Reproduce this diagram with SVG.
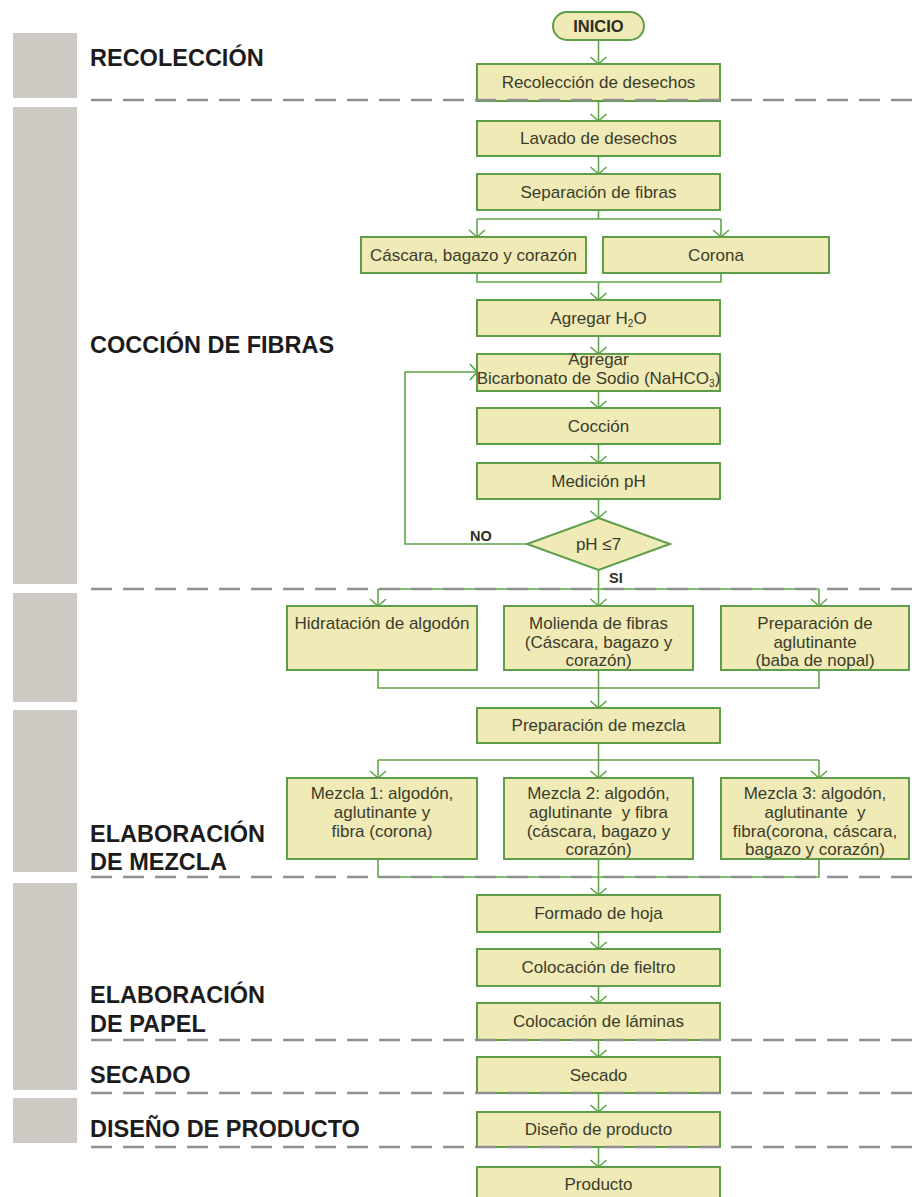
<svg xmlns="http://www.w3.org/2000/svg" width="921" height="1197" viewBox="0 0 921 1197">
<style>
.bar{fill:#cdcac4}
.dash{stroke:#8f8f8f;stroke-width:2.5;stroke-dasharray:21 11;fill:none}
.box{fill:#efeab6;stroke:#5e9e48;stroke-width:2}
.t{font-family:"Liberation Sans",Arial,sans-serif;font-size:17px;fill:#3c3c2c;text-anchor:middle}
.tb{font-family:"Liberation Sans",Arial,sans-serif;font-weight:bold;fill:#2e2e22}
.lbl{font-family:"Liberation Sans",Arial,sans-serif;font-weight:bold;font-size:23.5px;fill:#1c1c1c}
.c{stroke:#5fa64a;stroke-width:1.6;fill:none}
.a{marker-end:url(#arr)}
.sub{font-size:10px}
</style>
<defs>
<marker id="arr" markerUnits="userSpaceOnUse" markerWidth="20" markerHeight="20" refX="0" refY="0" viewBox="-10 -10 20 20" orient="auto" overflow="visible">
<path d="M-7,-8 L0,0 L-7,8" fill="none" stroke="#5fa64a" stroke-width="1.6"/>
</marker>
</defs>
<rect width="921" height="1197" fill="#ffffff"/>
<g id="lanes">
<rect class="bar" x="13" y="33" width="64" height="65"/>
<rect class="bar" x="13" y="107" width="64" height="477"/>
<rect class="bar" x="13" y="593" width="64" height="109"/>
<rect class="bar" x="13" y="710" width="64" height="162"/>
<rect class="bar" x="13" y="883" width="64" height="207"/>
<rect class="bar" x="13" y="1098" width="64" height="45"/>
<text class="lbl" x="90" y="66">RECOLECCIÓN</text>
<text class="lbl" x="90" y="353">COCCIÓN DE FIBRAS</text>
<text class="lbl" x="90" y="842">ELABORACIÓN</text>
<text class="lbl" x="90" y="870">DE MEZCLA</text>
<text class="lbl" x="90" y="1003">ELABORACIÓN</text>
<text class="lbl" x="90" y="1032">DE PAPEL</text>
<text class="lbl" x="90" y="1083">SECADO</text>
<text class="lbl" x="90" y="1137">DISEÑO DE PRODUCTO</text>
</g>
<g id="connectors">
<path class="c a" d="M598.5 40 V64"/>
<path class="c a" d="M598.5 101 V121"/>
<path class="c a" d="M598.5 156 V174"/>
<path class="c" d="M598.5 210 V219 M477 219 H721"/>
<path class="c a" d="M477 219 V237"/>
<path class="c a" d="M721 219 V237"/>
<path class="c" d="M477 273 V282 H721 V273"/>
<path class="c a" d="M598.5 282 V300"/>
<path class="c a" d="M598.5 336 V354"/>
<path class="c a" d="M598.5 391 V408"/>
<path class="c a" d="M598.5 444 V463"/>
<path class="c a" d="M598.5 499 V518"/>
<path class="c a" d="M527 544 H405 V372 H477"/>
<path class="c" d="M598.5 570 V589 M378 589 H819"/>
<path class="c a" d="M378 589 V606"/>
<path class="c a" d="M598.5 589 V606"/>
<path class="c a" d="M819 589 V606"/>
<path class="c" d="M378 670 V688 H819 V670"/>
<path class="c a" d="M598.5 670 V708"/>
<path class="c" d="M598.5 743 V760 M378 760 H819"/>
<path class="c a" d="M378 760 V778"/>
<path class="c a" d="M598.5 760 V778"/>
<path class="c a" d="M819 760 V778"/>
<path class="c" d="M378 859 V877 H819 V859"/>
<path class="c a" d="M598.5 859 V895"/>
<path class="c a" d="M598.5 932 V949"/>
<path class="c a" d="M598.5 986 V1003"/>
<path class="c a" d="M598.5 1040 V1057"/>
<path class="c a" d="M598.5 1093 V1112"/>
<path class="c a" d="M598.5 1147 V1167"/>
</g>
<g id="n-inicio"><rect class="box" x="553" y="12" width="91" height="28" rx="14"/><text class="tb" x="598.5" y="32" font-size="16.5" text-anchor="middle">INICIO</text></g>
<g id="n-recoleccion"><rect class="box" x="477" y="64" width="243" height="37"/><text class="t" x="598.5" y="88">Recolección de desechos</text></g>
<g id="n-lavado"><rect class="box" x="477" y="121" width="243" height="35"/><text class="t" x="598.5" y="144">Lavado de desechos</text></g>
<g id="n-separacion"><rect class="box" x="477" y="174" width="243" height="36"/><text class="t" x="598.5" y="198">Separación de fibras</text></g>
<g id="n-cascara"><rect class="box" x="361" y="237" width="225" height="36"/><text class="t" x="473.5" y="261">Cáscara, bagazo y corazón</text></g>
<g id="n-corona"><rect class="box" x="603" y="237" width="226" height="36"/><text class="t" x="716" y="261">Corona</text></g>
<g id="n-agua"><rect class="box" x="477" y="300" width="243" height="36"/><text class="t" x="598.5" y="324">Agregar H<tspan class="sub" dy="3">2</tspan><tspan dy="-3">O</tspan></text></g>
<g id="n-bicarbonato"><rect class="box" x="477" y="354" width="243" height="37"/><text class="t" x="598.5" y="365" font-size="14.5">Agregar</text><text class="t" x="598.5" y="384" font-size="14.5">Bicarbonato de Sodio (NaHCO<tspan class="sub" dy="3">3</tspan><tspan dy="-3">)</tspan></text></g>
<g id="n-coccion"><rect class="box" x="477" y="408" width="243" height="36"/><text class="t" x="598.5" y="432">Cocción</text></g>
<g id="n-medicion"><rect class="box" x="477" y="463" width="243" height="36"/><text class="t" x="598.5" y="487">Medición pH</text></g>
<g id="n-decision"><polygon class="box" points="598.5,518 670,544 598.5,570 527,544"/><text class="t" x="598.5" y="550">pH ≤7</text><text class="tb" x="470" y="541" font-size="14.5">NO</text><text class="tb" x="609" y="583" font-size="14.5">SI</text></g>
<g id="n-hidratacion"><rect class="box" x="287" y="606" width="190" height="64"/><text class="t" x="382" y="629">Hidratación de algodón</text></g>
<g id="n-molienda"><rect class="box" x="504" y="606" width="189" height="64"/><text class="t" x="598.5" y="629">Molienda de fibras</text><text class="t" x="598.5" y="648">(Cáscara, bagazo y</text><text class="t" x="598.5" y="666">corazón)</text></g>
<g id="n-aglutinante"><rect class="box" x="721" y="606" width="188" height="64"/><text class="t" x="815" y="629">Preparación de</text><text class="t" x="815" y="648">aglutinante</text><text class="t" x="815" y="666">(baba de nopal)</text></g>
<g id="n-prep-mezcla"><rect class="box" x="477" y="708" width="243" height="35"/><text class="t" x="598.5" y="731">Preparación de mezcla</text></g>
<g id="n-mezcla1"><rect class="box" x="287" y="778" width="190" height="81"/><text class="t" x="382" y="799">Mezcla 1: algodón,</text><text class="t" x="382" y="818">aglutinante y</text><text class="t" x="382" y="837">fibra (corona)</text></g>
<g id="n-mezcla2"><rect class="box" x="504" y="778" width="189" height="81"/><text class="t" x="598.5" y="799">Mezcla 2: algodón,</text><text class="t" x="598.5" y="818" xml:space="preserve">aglutinante  y fibra</text><text class="t" x="598.5" y="837">(cáscara, bagazo y</text><text class="t" x="598.5" y="855">corazón)</text></g>
<g id="n-mezcla3"><rect class="box" x="721" y="778" width="188" height="81"/><text class="t" x="815" y="799">Mezcla 3: algodón,</text><text class="t" x="815" y="818" xml:space="preserve">aglutinante  y</text><text class="t" x="815" y="837">fibra(corona, cáscara,</text><text class="t" x="815" y="855">bagazo y corazón)</text></g>
<g id="n-formado"><rect class="box" x="477" y="895" width="243" height="37"/><text class="t" x="598.5" y="919">Formado de hoja</text></g>
<g id="n-fieltro"><rect class="box" x="477" y="949" width="243" height="37"/><text class="t" x="598.5" y="973">Colocación de fieltro</text></g>
<g id="n-laminas"><rect class="box" x="477" y="1003" width="243" height="37"/><text class="t" x="598.5" y="1027">Colocación de láminas</text></g>
<g id="n-secado"><rect class="box" x="477" y="1057" width="243" height="36"/><text class="t" x="598.5" y="1081">Secado</text></g>
<g id="n-diseno"><rect class="box" x="477" y="1112" width="243" height="35"/><text class="t" x="598.5" y="1135">Diseño de producto</text></g>
<g id="n-producto"><rect class="box" x="477" y="1167" width="243" height="36"/><text class="t" x="598.5" y="1190">Producto</text></g>
<g id="dividers">
<line class="dash" x1="91" y1="100" x2="921" y2="100"/>
<line class="dash" x1="91" y1="589" x2="921" y2="589"/>
<line class="dash" x1="91" y1="877" x2="921" y2="877"/>
<line class="dash" x1="91" y1="1040" x2="921" y2="1040"/>
<line class="dash" x1="91" y1="1093" x2="921" y2="1093"/>
<line class="dash" x1="91" y1="1147" x2="921" y2="1147"/>
</g>
</svg>
